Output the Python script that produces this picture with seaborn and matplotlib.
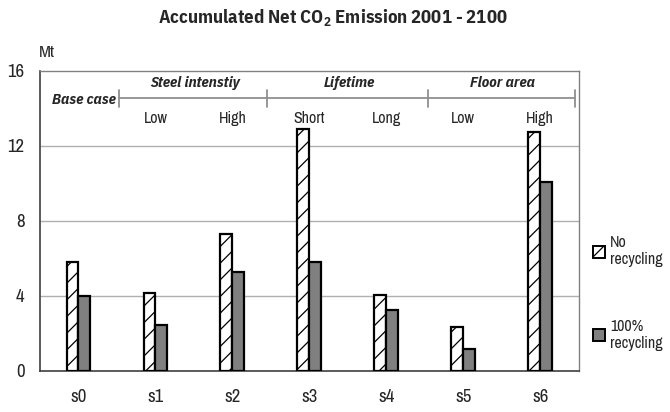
import matplotlib
matplotlib.use("Agg")
import matplotlib.pyplot as plt
from matplotlib.patches import Patch
import seaborn as sns
import pandas as pd

scenarios = ["s0", "s1", "s2", "s3", "s4", "s5", "s6"]
no_recycling = [5.81, 4.16, 7.27, 12.89, 4.05, 2.35, 12.75]
full_recycling = [3.98, 2.45, 5.28, 5.81, 3.24, 1.17, 10.08]
series_names = ["No\nrecycling", "100%\nrecycling"]
sub_labels = ["", "Low", "High", "Short", "Long", "Low", "High"]
groups = ["Steel intenstiy", "Lifetime", "Floor area"]
y_ticks = [0, 4, 8, 12, 16]

df = pd.DataFrame({
    "scenario": scenarios * 2,
    "value": no_recycling + full_recycling,
    "series": [series_names[0]] * len(scenarios) + [series_names[1]] * len(scenarios),
})

sns.set_style("white")
FAM = ["Archivo Narrow", "Liberation Sans", "DejaVu Sans"]
BOLD = ["IBM Plex Sans Condensed", "Liberation Sans", "DejaVu Sans"]
plt.rcParams["font.family"] = FAM
plt.rcParams["mathtext.fontset"] = "custom"
plt.rcParams["mathtext.rm"] = "IBM Plex Sans Condensed"
plt.rcParams["mathtext.bf"] = "IBM Plex Sans Condensed:bold"
plt.rcParams["hatch.linewidth"] = 0.9

fig = plt.figure(figsize=(6.7, 4.12), dpi=100)
ax = fig.add_axes([0.0597, 0.1002, 0.804, 0.7282])

sns.barplot(data=df, x="scenario", y="value", hue="series", order=scenarios,
            hue_order=series_names, palette=["white", "#808080"], width=0.31,
            edgecolor="black", linewidth=1.6, saturation=1, legend=False, ax=ax, zorder=3)

for bar in ax.containers[0]:
    bar.set_hatch("//")
    bar.set_edgecolor("black")

ax.set_xlim(-0.5, 6.5)
ax.set_ylim(0, 16)
ax.set_yticks(y_ticks)
ax.set_yticklabels([str(t) for t in y_ticks], fontsize=13.5)
ax.set_xticks(range(len(scenarios)))
ax.set_xticklabels(scenarios, fontsize=13.5)
ax.set_xticks([i + 0.5 for i in range(-1, len(scenarios))], minor=True)
ax.tick_params(axis="x", which="major", length=0, pad=13)
ax.tick_params(axis="x", which="minor", length=5, width=1, color="#404040", direction="out")
ax.tick_params(axis="y", length=4, width=1, color="#404040", direction="out", pad=7)
ax.set_xlabel("")
ax.set_ylabel("")

for y in y_ticks[1:-1]:
    ax.axhline(y, color="#b0b0b0", linewidth=1, zorder=1)

for side in ["top", "right"]:
    ax.spines[side].set_color("#808080")
    ax.spines[side].set_linewidth(1)
for side in ["left", "bottom"]:
    ax.spines[side].set_color("#404040")
    ax.spines[side].set_linewidth(1.2)

# scenario group brackets
bracket_y = 14.53
brackets = [(0.53, 2.45), (2.45, 4.54), (4.54, 6.45)]
bracket_color = "#909090"
for (x0, x1), name in zip(brackets, groups):
    ax.plot([x0, x1], [bracket_y, bracket_y], color=bracket_color, lw=1.3, zorder=2)
    ax.text((x0 + x1) / 2 + 0.02, 15.35, name, ha="center", va="center",
            fontsize=11, fontstyle="italic", fontweight="bold", family=BOLD)
for x in [0.53, 2.45, 4.54, 6.45]:
    ax.plot([x, x], [bracket_y - 0.45, bracket_y + 0.45], color=bracket_color, lw=1.3, zorder=2)

ax.text(0.07, 14.45, "Base case", ha="center", va="center", fontsize=11,
        fontstyle="italic", fontweight="bold", family=BOLD)
for i, lab in enumerate(sub_labels):
    if lab:
        ax.text(i, 13.45, lab, ha="center", va="center", fontsize=11.5)

fig.text(0.058, 0.872, "Mt", fontsize=12.5, ha="left", va="center")
fig.text(0.497, 0.955, r"Accumulated Net CO$_\mathbf{2}$ Emission 2001 - 2100",
         ha="center", va="center", fontsize=13.5, fontweight="bold", family=BOLD)

handles = [Patch(facecolor="white", edgecolor="black", hatch="//", linewidth=1.4),
           Patch(facecolor="#808080", edgecolor="black", linewidth=1.4)]
fig.legend(handles, series_names, loc="upper left", bbox_to_anchor=(0.875, 0.445),
           frameon=False, fontsize=11.5, handlelength=0.8, handleheight=0.8,
           handletextpad=0.3, labelspacing=3.2, borderaxespad=0)

fig.savefig("out.png", dpi=100)
